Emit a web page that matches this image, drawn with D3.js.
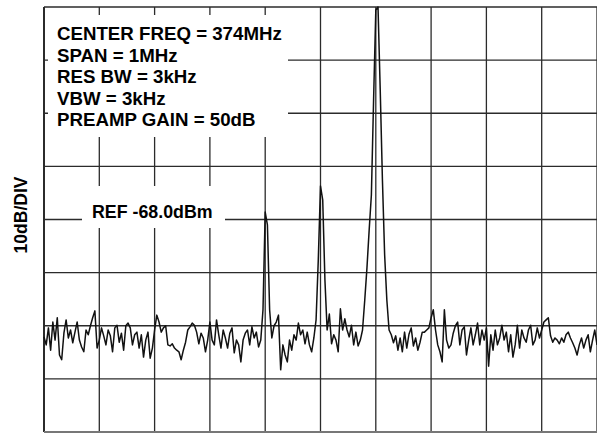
<!DOCTYPE html>
<html>
<head>
<meta charset="utf-8">
<script src="https://cdn.jsdelivr.net/npm/d3@7"></script>
<style>
  body { margin: 0; background: #fff; }
  text { font-family: "Liberation Sans", Arial, sans-serif; font-weight: bold; fill: #000; }
</style>
</head>
<body>
<div id="chart"></div>
<script>
// spectrum analyser settings (annotation text)
const settings = [
    "CENTER FREQ = 374MHz",
    "SPAN = 1MHz",
    "RES BW = 3kHz",
    "VBW = 3kHz",
    "PREAMP GAIN = 50dB"
];
const refLabel = "REF -68.0dBm";
const yLabel = "10dB/DIV";

// frequency offset from center (kHz) and level (dBm) grid divisions
const freqTicks = [-500, -400, -300, -200, -100, 0, 100, 200, 300, 400, 500];
const levelTicks = [-148, -138, -128, -118, -108, -98, -88, -78, -68];

// sweep: 251 points evenly spaced over the 1MHz span, level in dBm
const trace = [
    -130.1,-131.6,-128.4,-132.6,-127.3,-130.7,-126.5,-133.5,-134.4,-129.4,
    -126.9,-130.3,-128.8,-131.2,-129.2,-127.3,-130.7,-132.0,-132.9,-128.8,
    -129.7,-128.0,-126.5,-125.2,-132.2,-130.7,-128.4,-129.9,-131.6,-128.8,
    -129.9,-132.9,-128.4,-127.9,-131.1,-129.4,-132.6,-128.0,-127.5,-128.4,
    -131.6,-129.7,-129.2,-132.2,-129.7,-133.9,-130.7,-129.2,-134.1,-132.2,
    -128.8,-126.0,-127.3,-129.2,-128.4,-128.0,-131.6,-131.8,-131.4,-132.2,
    -132.6,-132.9,-134.4,-132.6,-131.1,-128.8,-128.2,-127.5,-127.9,-129.2,
    -131.4,-129.4,-130.3,-132.9,-130.7,-127.3,-130.7,-131.6,-126.9,-129.7,
    -132.2,-128.8,-130.3,-132.2,-129.4,-128.4,-133.1,-130.7,-131.6,-134.8,
    -130.7,-129.4,-128.8,-131.6,-128.2,-130.3,-129.2,-132.0,-130.7,
    -125.0,-106.6,-109.0,-125.0,-130.3,
    -128.0,-127.3,-126.0,-136.3,-131.6,-133.5,
    -134.8,-130.7,-132.6,-129.7,-130.7,-127.5,-129.7,-128.8,-131.4,-129.2,
    -131.6,-132.9,-130.3,
    -126.9,-115.6,-101.7,-104.3,-119.4,-128.8,
    -125.8,-131.4,-129.7,-130.7,-132.9,-124.8,-128.8,-126.7,-128.8,-130.1,-127.9,
    -131.6,-129.2,-131.8,-130.7,-128.8,
    -123.2,-117.1,-110.0,-103.4,-85.5,-68.6,-68.0,-83.6,-100.6,-114.7,-123.2,-128.8,
    -129.7,-131.2,-129.9,-132.6,-130.3,-132.9,-129.2,-132.2,-129.6,-128.4,
    -131.8,-130.3,-132.6,-131.1,-129.2,-129.2,-128.8,-128.4,-126.5,-125.0,
    -128.8,-131.6,-132.9,-134.8,-125.0,-130.7,-132.2,-131.6,-129.4,-128.0,
    -127.3,-131.6,-128.8,-128.2,-133.5,-130.7,-128.4,-131.6,-129.7,-127.5,
    -131.6,-128.8,-130.7,-128.4,-135.6,-129.7,-132.6,-128.8,-131.6,-130.3,
    -127.9,-130.7,-129.2,-132.9,-129.7,-133.9,-131.6,-127.9,-132.2,-128.8,
    -130.3,-131.1,-128.8,-127.9,-131.6,-130.7,-128.4,-130.3,-128.8,-127.3,-126.9,
    -126.5,-129.9,-131.1,-130.3,-130.7,-131.4,-130.3,-131.1,-129.7,-129.2,
    -130.3,-131.2,-132.2,-133.5,-131.6,-130.3,-132.2,-130.7,-129.7,-132.9,
    -130.7,-128.8,-131.6
];

const width = 597, height = 434;
const plot = {left: 44, right: 597, top: 7, bottom: 432};

const svg = d3.select("#chart").append("svg")
    .attr("width", width)
    .attr("height", height);

const x = d3.scaleLinear()
    .domain([freqTicks[0], freqTicks[freqTicks.length - 1]])
    .range([plot.left, plot.right]);

const y = d3.scaleLinear()
    .domain([levelTicks[0], levelTicks[levelTicks.length - 1]])
    .range([plot.bottom, plot.top]);

// graticule
svg.append("g")
    .selectAll("line")
    .data(freqTicks)
    .join("line")
        .attr("x1", d => x(d))
        .attr("x2", d => x(d))
        .attr("y1", plot.top)
        .attr("y2", plot.bottom)
        .attr("stroke", "#2b2b2b")
        .attr("stroke-width", (d, i) => i === 0 ? 2 : 1.3);

svg.append("g")
    .selectAll("line")
    .data(levelTicks)
    .join("line")
        .attr("x1", plot.left)
        .attr("x2", plot.right)
        .attr("y1", d => y(d))
        .attr("y2", d => y(d))
        .attr("stroke", (d, i) => i === 0 ? "#777" : "#2b2b2b")
        .attr("stroke-width", (d, i) => i === 0 ? 2.2 : 1.3);

// settings box
svg.append("rect")
    .attr("x", 48).attr("y", 15)
    .attr("width", 240).attr("height", 122)
    .attr("fill", "#fff");

svg.append("g")
    .selectAll("text")
    .data(settings)
    .join("text")
        .attr("x", 57)
        .attr("y", (d, i) => 40 + i * 21.6)
        .style("font-size", "18.7px")
        .text(d => d);

// reference level box
svg.append("rect")
    .attr("x", 82).attr("y", 186)
    .attr("width", 143).attr("height", 42)
    .attr("fill", "#fff");

svg.append("text")
    .attr("x", 92)
    .attr("y", 218)
    .style("font-size", "17.8px")
    .text(refLabel);

// y axis label
svg.append("text")
    .attr("transform", "translate(27,215) rotate(-90)")
    .attr("text-anchor", "middle")
    .style("font-size", "17.5px")
    .text(yLabel);

// trace
const step = (freqTicks[freqTicks.length - 1] - freqTicks[0]) / (trace.length - 1);
const line = d3.line()
    .x((d, i) => x(freqTicks[0] + i * step))
    .y(d => y(d));

svg.append("path")
    .datum(trace)
    .attr("d", line)
    .attr("fill", "none")
    .attr("stroke", "#111")
    .attr("stroke-width", 1.5)
    .attr("stroke-linejoin", "round");
</script>
</body>
</html>
